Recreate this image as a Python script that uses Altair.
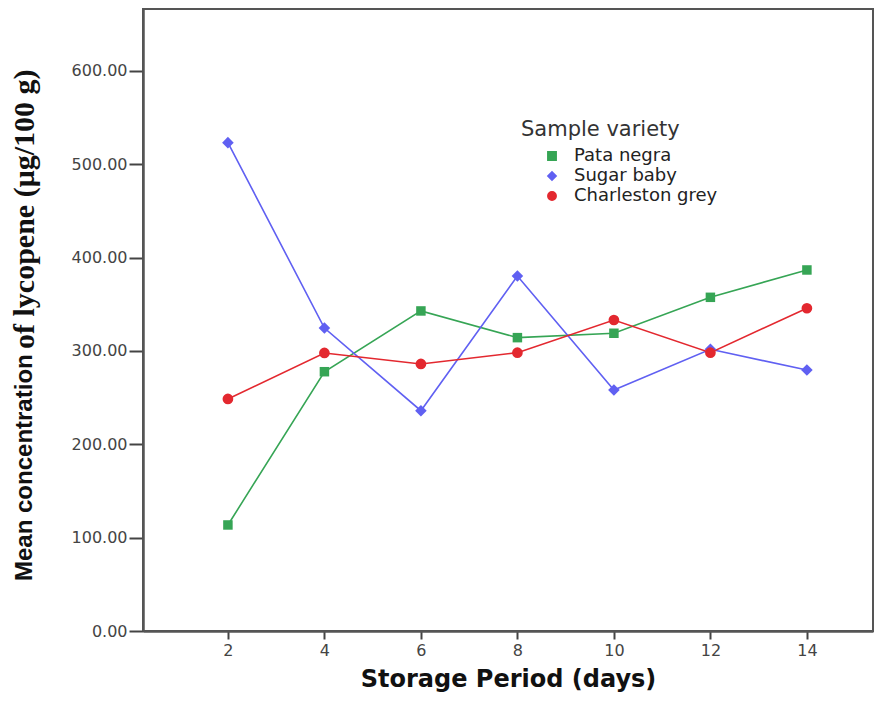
import altair as alt
import pandas as pd

days = [2, 4, 6, 8, 10, 12, 14]
pata_negra = [113.6, 277.8, 342.9, 314.3, 319.0, 357.5, 386.8]
sugar_baby = [523.2, 324.6, 236.0, 380.4, 258.2, 301.8, 279.6]
charleston_grey = [248.6, 297.9, 286.1, 298.2, 333.2, 298.2, 345.8]

varieties = ["Pata negra", "Sugar baby", "Charleston grey"]
colors = ["#36a555", "#6060f2", "#e3282f"]
shapes = ["square", "diamond", "circle"]
marker_sizes = [90, 135, 115]
y_ticks = [0, 100, 200, 300, 400, 500, 600]
x_ticks = [2, 4, 6, 8, 10, 12, 14]

rows = []
for name, vals in zip(varieties, [pata_negra, sugar_baby, charleston_grey]):
    for d, v in zip(days, vals):
        rows.append({"day": d, "value": v, "variety": name})
df = pd.DataFrame(rows)

x_enc = alt.X("day:Q",
              scale=alt.Scale(domain=[0.24, 15.37], nice=False, zero=False),
              axis=alt.Axis(values=x_ticks, title="Storage Period (days)", grid=False,
                            labelFont="DejaVu Sans", labelFontSize=16, labelColor="#444",
                            tickSize=8, tickWidth=2, tickColor="#444", labelPadding=3,
                            domainColor="#555", domainWidth=2.5,
                            titleFont="DejaVu Sans", titleFontSize=24, titleFontWeight="bold",
                            titleColor="#111", titlePadding=9))
y_enc = alt.Y("value:Q",
              scale=alt.Scale(domain=[0, 666.4], nice=False),
              axis=alt.Axis(values=y_ticks, format=".2f", title=None, grid=False,
                            labelFont="DejaVu Sans", labelFontSize=16, labelColor="#444",
                            tickSize=14, tickWidth=2, tickColor="#444", labelPadding=2,
                            domainColor="#555", domainWidth=2.5))

color_enc = alt.Color("variety:N", scale=alt.Scale(domain=varieties, range=colors),
                      title="Sample variety")
shape_enc = alt.Shape("variety:N", scale=alt.Scale(domain=varieties, range=shapes),
                      title="Sample variety")

lines = alt.Chart(df).mark_line(strokeWidth=1.6).encode(
    x=x_enc, y=y_enc, color=color_enc,
)

point_layers = []
for name, sz in zip(varieties, marker_sizes):
    point_layers.append(
        alt.Chart(df).transform_filter(alt.datum.variety == name)
        .mark_point(filled=True, opacity=1, size=sz)
        .encode(x="day:Q", y="value:Q", color=color_enc, shape=shape_enc)
    )

t1 = alt.Chart(pd.DataFrame({"t": ["Mean concentration"]})).mark_text(
    angle=270, align="left", baseline="middle", font="Liberation Sans",
    fontWeight="bold", fontSize=24, color="#111"
).encode(x=alt.value(-118), y=alt.value(572), text="t:N")

t2 = alt.Chart(pd.DataFrame({"t": ["of lycopene (μg/100 g)"]})).mark_text(
    angle=270, align="left", baseline="middle", font="Liberation Serif",
    fontWeight="bold", fontSize=30, color="#111"
).encode(x=alt.value(-118), y=alt.value(340), text="t:N")

chart = alt.layer(lines, *point_layers, t1, t2).properties(
    width=730, height=622,
    autosize=alt.AutoSizeParams(type="none"),
    padding={"left": 135, "top": 1, "right": 2, "bottom": 66},
).configure_view(
    stroke="#555", strokeWidth=2
).configure_legend(
    orient="none", legendX=378, legendY=110, padding=0,
    titleFont="DejaVu Sans", titleFontSize=21, titleFontWeight="normal", titleColor="#333",
    titlePadding=7,
    labelFont="DejaVu Sans", labelFontSize=18, labelColor="#222",
    symbolOffset=22, symbolSize=70, labelOffset=13, rowPadding=2,
)

chart.save("out.html", embed_options={"renderer": "svg", "actions": False})
